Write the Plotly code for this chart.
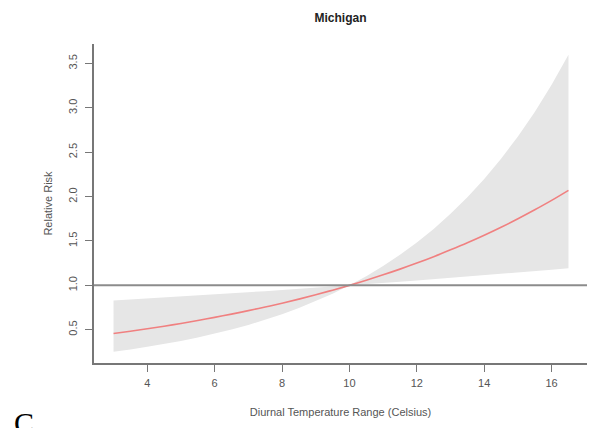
import plotly.graph_objects as go

# Data
dtr = [3, 3.5, 4, 4.5, 5, 5.5, 6, 6.5, 7, 7.5, 8, 8.5, 9, 9.5, 10,
       10.5, 11, 11.5, 12, 12.5, 13, 13.5, 14, 14.5, 15, 15.5, 16, 16.5]
rr = [0.457, 0.483, 0.511, 0.540, 0.571, 0.604, 0.639, 0.676, 0.715, 0.756, 0.799, 0.845, 0.894, 0.946, 1.0,
      1.058, 1.119, 1.183, 1.251, 1.323, 1.400, 1.480, 1.565, 1.655, 1.751, 1.852, 1.958, 2.071]
rr_upper = [0.828, 0.839, 0.850, 0.862, 0.874, 0.886, 0.898, 0.910, 0.922, 0.935, 0.947, 0.960, 0.973, 0.987, 1.0,
            1.104, 1.218, 1.344, 1.483, 1.636, 1.806, 1.993, 2.199, 2.427, 2.678, 2.955, 3.261, 3.599]
rr_lower = [0.252, 0.278, 0.307, 0.338, 0.373, 0.412, 0.455, 0.502, 0.554, 0.611, 0.674, 0.744, 0.821, 0.906, 1.0,
            1.014, 1.027, 1.041, 1.055, 1.070, 1.084, 1.099, 1.114, 1.129, 1.144, 1.160, 1.176, 1.192]
x_ticks = [4, 6, 8, 10, 12, 14, 16]
y_ticks = [0.5, 1.0, 1.5, 2.0, 2.5, 3.0, 3.5]
y_tick_text = ["0.5", "1.0", "1.5", "2.0", "2.5", "3.0", "3.5"]

fig = go.Figure()

fig.add_trace(go.Scatter(
    x=dtr + dtr[::-1],
    y=rr_upper + rr_lower[::-1],
    fill="toself",
    fillcolor="#E6E6E6",
    line=dict(width=0, color="#E6E6E6"),
    mode="lines",
    hoverinfo="skip",
    showlegend=False,
))

fig.add_shape(type="line", xref="paper", yref="y", x0=0, x1=1, y0=1.0, y1=1.0,
              line=dict(color="#8C8C8C", width=2), layer="above")

fig.add_trace(go.Scatter(
    x=dtr, y=rr, mode="lines",
    line=dict(color="#F08080", width=1.6, shape="spline"),
    showlegend=False,
))

axis_font = dict(family="Liberation Sans, Arial, sans-serif", size=11, color="#555555")

fig.update_layout(
    width=602, height=428,
    margin=dict(l=94, r=15, t=44, b=65),
    paper_bgcolor="white",
    plot_bgcolor="white",
    title=dict(text="<b>Michigan</b>", x=(94 + 587) / 2 / 602, xanchor="center",
               y=1 - 18 / 428, yanchor="middle",
               font=dict(family="Liberation Sans, Arial, sans-serif", size=12, color="#222222")),
    xaxis=dict(
        range=[2.42, 17.05],
        tickvals=x_ticks,
        ticks="outside", ticklen=7, tickcolor="#777777", tickwidth=1.3,
        showline=True, linecolor="#777777", linewidth=1.5,
        showgrid=False, zeroline=False,
        tickfont=axis_font, ticklabelstandoff=2,
        title=dict(text="Diurnal Temperature Range (Celsius)", font=axis_font, standoff=20),
    ),
    yaxis=dict(
        range=[0.125, 3.72],
        tickvals=y_ticks, ticktext=y_tick_text, tickangle=-90,
        ticks="outside", ticklen=7, tickcolor="#777777", tickwidth=1.3,
        showline=True, linecolor="#777777", linewidth=1.5,
        showgrid=False, zeroline=False,
        tickfont=axis_font, ticklabelstandoff=4,
        title=dict(text="Relative Risk", font=axis_font, standoff=12),
    ),
    annotations=[dict(
        text="C", xref="paper", yref="paper",
        x=-82 / 493, y=-(404 - 363) / 319, xanchor="left", yanchor="top",
        showarrow=False,
        font=dict(family="Liberation Serif, Times New Roman, serif", size=30, color="#000000"),
    )],
)

fig.write_html("out.html")
